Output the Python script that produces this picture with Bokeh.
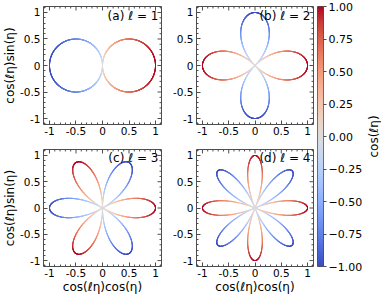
import numpy as np
from bokeh.plotting import figure
from bokeh.models import (Range1d, FixedTicker, Label, Title,
                          LinearColorMapper, ColumnDataSource)
from bokeh.layouts import row, column
from bokeh.transform import linear_cmap
from bokeh.embed import file_html
from bokeh.resources import INLINE

# ---------------- data ----------------
ells = [1, 2, 3, 4]
panel_labels = ["(a) ℓ = 1", "(b) ℓ = 2", "(c) ℓ = 3", "(d) ℓ = 4"]
tick_vals = [-1, -0.5, 0, 0.5, 1]
tick_labels = ["-1", "-0.5", "0", "0.5", "1"]
minor_vals = [-1.1, -0.9, -0.8, -0.7, -0.6, -0.4, -0.3, -0.2, -0.1,
              0.1, 0.2, 0.3, 0.4, 0.6, 0.7, 0.8, 0.9, 1.1]
cbar_vals = [-1, -0.75, -0.5, -0.25, 0, 0.25, 0.5, 0.75, 1]
cbar_labels = ["−1.00", "−0.75", "−0.50", "−0.25", "0.00",
               "0.25", "0.50", "0.75", "1.00"]
xlabel = "cos(ℓη)cos(η)"
ylabel = "cos(ℓη)sin(η)"
clabel = "cos(ℓη)"

# coolwarm colormap anchors
cw_pos = np.linspace(0, 1, 17)
cw_rgb = np.array([
    [.2298, .2987, .7537], [.3039, .4065, .8450], [.3830, .5094, .9174],
    [.4667, .6046, .9682], [.5530, .6889, .9954], [.6392, .7596, .9982],
    [.7222, .8140, .9766], [.7987, .8498, .9317], [.8654, .8654, .8654],
    [.9241, .8274, .7745], [.9589, .7698, .6780], [.9700, .6943, .5794],
    [.9580, .6028, .4818], [.9239, .4973, .3880], [.8692, .3783, .3003],
    [.7956, .2413, .2205], [.7057, .0156, .1502]])
tt = np.linspace(0, 1, 256)
palette = []
for t in tt:
    r, g, b = (np.interp(t, cw_pos, cw_rgb[:, k]) for k in range(3))
    palette.append("#%02x%02x%02x" % (int(round(r * 255)), int(round(g * 255)), int(round(b * 255))))

FONT = "DejaVu Sans"
FRAME = "#4d4d4d"
LIM = 1.113
FW = 118
PX = FW / (2 * LIM)          # pixels per data unit
MAJ_LEN = 4 / PX
MIN_LEN = 2 / PX


def style_axis(ax, is_y):
    ax.ticker = FixedTicker(ticks=tick_vals, minor_ticks=minor_vals)
    ax.major_tick_in = 4
    ax.major_tick_out = 0
    ax.minor_tick_in = 2
    ax.minor_tick_out = 0
    ax.major_tick_line_color = FRAME
    ax.minor_tick_line_color = FRAME
    ax.axis_line_color = None
    ax.major_label_overrides = dict(zip(tick_vals, tick_labels))
    ax.major_label_text_font = FONT
    ax.major_label_text_font_size = "10.5px"
    ax.major_label_text_color = "black"
    ax.major_label_standoff = 3 if is_y else 2
    ax.axis_label_text_font = FONT
    ax.axis_label_text_font_size = "12px"
    ax.axis_label_text_font_style = "normal"
    ax.axis_label_text_color = "black"
    ax.axis_label_standoff = 0


def make_panel(idx, left_col, bottom_row):
    ell = ells[idx]
    ml = 43 if left_col else 25
    mr = 9 if left_col else 3
    mt = 1 if bottom_row else 6
    mb = 29 if bottom_row else 24
    p = figure(width=ml + FW + mr, height=mt + FW + mb,
               x_range=Range1d(-LIM, LIM), y_range=Range1d(-LIM, LIM),
               toolbar_location=None, output_backend="svg",
               min_border_left=ml, min_border_right=mr,
               min_border_top=mt, min_border_bottom=mb)
    p.grid.visible = False
    p.outline_line_color = FRAME
    p.outline_line_width = 1
    p.background_fill_color = "white"
    p.border_fill_color = "white"

    eta = np.linspace(0, 2 * np.pi, 1441)
    c = np.cos(ell * eta)
    r = np.abs(c)
    x = r * np.cos(eta)
    y = r * np.sin(eta)
    src = ColumnDataSource(dict(x0=x[:-1], y0=y[:-1], x1=x[1:], y1=y[1:],
                                c=(c[:-1] + c[1:]) / 2))
    p.segment("x0", "y0", "x1", "y1", source=src,
              line_color=linear_cmap("c", palette, -1, 1),
              line_width=1.1, line_cap="round")

    xa = p.xaxis[0]
    yb = p.yaxis[0]
    style_axis(xa, False)
    style_axis(yb, True)
    if left_col:
        yb.axis_label = ylabel
    if bottom_row:
        xa.axis_label = xlabel

    # mirrored inward ticks on the top and right edges of the frame
    for vals, ln in ((tick_vals, MAJ_LEN), (minor_vals, MIN_LEN)):
        v = np.array(vals, dtype=float)
        top = ColumnDataSource(dict(x0=v, x1=v, y0=np.full_like(v, LIM),
                                    y1=np.full_like(v, LIM - ln)))
        rgt = ColumnDataSource(dict(y0=v, y1=v, x0=np.full_like(v, LIM),
                                    x1=np.full_like(v, LIM - ln)))
        for s in (top, rgt):
            p.segment("x0", "y0", "x1", "y1", source=s,
                      line_color=FRAME, line_width=1)

    p.add_layout(Label(x=1.055, y=1.075, text=panel_labels[idx],
                       text_align="right", text_baseline="top",
                       text_font=FONT, text_font_size="12px",
                       text_color="black"))
    return p


pa = make_panel(0, True, False)
pb = make_panel(1, False, False)
pc = make_panel(2, True, True)
pd = make_panel(3, False, True)

# colorbar
mapper = LinearColorMapper(palette=palette, low=-1, high=1)
grad = np.linspace(-1, 1, 256).reshape(256, 1)
CB_H = 6 + 260 + 29
cb = figure(width=1 + 7 + 41, height=CB_H,
            x_range=Range1d(0, 1), y_range=Range1d(-1, 1),
            x_axis_location=None, y_axis_location="right",
            toolbar_location=None, output_backend="svg",
            min_border_left=1, min_border_right=41,
            min_border_top=6, min_border_bottom=29)
cb.grid.visible = False
cb.image(image=[grad], x=0, y=-1, dw=1, dh=2, color_mapper=mapper)
cb.outline_line_color = FRAME
ya = cb.yaxis[0]
ya.ticker = FixedTicker(ticks=cbar_vals, minor_ticks=[])
ya.major_label_overrides = dict(zip(cbar_vals, cbar_labels))
ya.major_tick_in = 0
ya.major_tick_out = 3
ya.minor_tick_out = 0
ya.major_tick_line_color = FRAME
ya.axis_line_color = None
ya.major_label_text_font = FONT
ya.major_label_text_font_size = "11px"
ya.major_label_text_color = "black"
ya.major_label_standoff = 2

# colorbar caption, in a narrow strip to the right (reads bottom to top)
lab = figure(width=15, height=CB_H, x_range=Range1d(0, 1),
             y_range=Range1d(-1, 1), x_axis_location=None,
             y_axis_location=None, toolbar_location=None,
             output_backend="svg", min_border_left=14, min_border_right=0,
             min_border_top=6, min_border_bottom=29)
lab.grid.visible = False
lab.outline_line_color = None
lab.add_layout(Title(text=clabel, align="center", text_font=FONT,
                     text_font_size="12px", text_font_style="normal",
                     text_color="black", standoff=0), "left")

layout = row(column(row(pa, pb), row(pc, pd)), cb, lab)

open("out.html", "w").write(file_html(layout, INLINE))
